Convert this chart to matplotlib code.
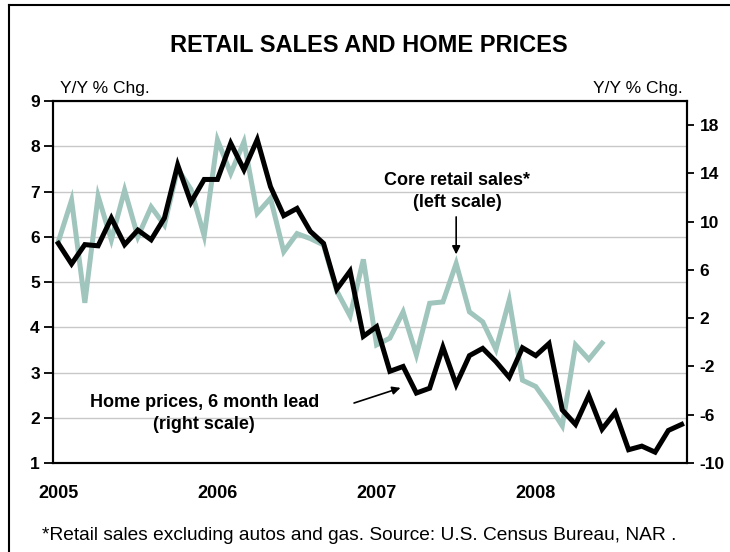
import matplotlib
matplotlib.use("Agg")
import matplotlib.pyplot as plt
from matplotlib.lines import Line2D

plt.rcParams['font.family'] = ['Liberation Sans', 'DejaVu Sans']
plt.rcParams['axes.unicode_minus'] = False

# monthly data, Jan 2005 onward
retail = [5.89, 6.81, 4.54, 6.90, 5.93, 7.03, 6.00, 6.66, 6.26, 7.50,
          7.05, 6.02, 8.14, 7.40, 8.10, 6.52, 6.85, 5.67, 6.07, 5.96,
          5.82, 4.80, 4.25, 5.50, 3.61, 3.76, 4.34, 3.39, 4.53, 4.56,
          5.41, 4.34, 4.12, 3.51, 4.60, 2.83, 2.69, 2.28, 1.82, 3.61,
          3.29, 3.65]
home = [8.2, 6.5, 8.1, 8.0, 10.3, 8.1, 9.3, 8.5, 10.3, 14.7,
        11.6, 13.5, 13.5, 16.5, 14.3, 16.8, 12.9, 10.5, 11.1, 9.2,
        8.2, 4.4, 5.9, 0.5, 1.3, -2.4, -2.0, -4.2, -3.8, -0.4,
        -3.5, -1.1, -0.5, -1.6, -2.9, -0.45, -1.1, -0.1, -5.6, -6.8,
        -4.4, -7.2, -5.8, -8.9, -8.6, -9.1, -7.3, -6.8]
years = ["2005", "2006", "2007", "2008"]
left_ticks = [1, 2, 3, 4, 5, 6, 7, 8, 9]
right_ticks = [-10, -6, -2, 2, 6, 10, 14, 18]

fig = plt.figure(figsize=(7.3, 5.52), dpi=100)
ax = fig.add_axes([0.0726, 0.1612, 0.8684, 0.6558])
ax2 = ax.twinx()

ax.plot(range(len(retail)), retail, color="#9fc5bc", lw=3.6, solid_joinstyle="miter", zorder=2)
ax2.plot(range(len(home)), home, color="black", lw=3.6, solid_joinstyle="miter", zorder=3)

ax.set_xlim(-0.4, 47.4)
ax.set_ylim(1, 9)
ax2.set_ylim(-10, 20)
ax.set_yticks(left_ticks)
ax2.set_yticks(right_ticks)
ax.set_xticks([0, 12, 24, 36])
ax.set_xticklabels(years)

for a in (ax, ax2):
    for s in a.spines.values():
        s.set_linewidth(1.5)
ax.grid(axis="y", color="#c8c8c8", lw=1)
ax.set_axisbelow(True)

ax.tick_params(axis="y", length=6.5, width=1.3, pad=3, labelsize=12.5)
ax2.tick_params(axis="y", length=5, width=1.3, pad=4, labelsize=12.5)
ax.tick_params(axis="x", length=0, pad=16, labelsize=13)
for t in ax.get_yticklabels() + ax2.get_yticklabels() + ax.get_xticklabels():
    t.set_fontweight("bold")

# titles and labels
fig.text(0.505, 0.918, "RETAIL SALES AND HOME PRICES", ha="center", va="center",
         fontsize=17, fontweight="bold")
fig.text(60 / 730, 1 - 88 / 552, "Y/Y % Chg.", ha="left", va="center", fontsize=12.5)
fig.text(683 / 730, 1 - 88 / 552, "Y/Y % Chg.", ha="right", va="center", fontsize=12.5)
fig.text(42 / 730, 1 - 535 / 552,
         "*Retail sales excluding autos and gas. Source: U.S. Census Bureau, NAR .",
         ha="left", va="center", fontsize=13.8)

# annotations
ax.annotate("", xy=(30, 5.55), xytext=(30, 6.5),
            arrowprops=dict(arrowstyle="-|>", color="black", lw=1.2, mutation_scale=12))
ax.text(30.1, 7.0, "Core retail sales*\n(left scale)", ha="center", va="center",
        fontsize=13, fontweight="bold", linespacing=1.35)
ax2.annotate("", xy=(26.0, -3.7), xytext=(22.1, -5.1),
             arrowprops=dict(arrowstyle="-|>", color="black", lw=1.2, mutation_scale=12))
ax2.text(11.0, -5.9, "Home prices, 6 month lead\n(right scale)", ha="center", va="center",
         fontsize=13, fontweight="bold", linespacing=1.35)

# outer frame
fig.add_artist(Line2D([9 / 730, 9 / 730], [0, 1 - 5 / 552], transform=fig.transFigure,
                      color="black", lw=1.5))
fig.add_artist(Line2D([9 / 730, 1], [1 - 5 / 552, 1 - 5 / 552], transform=fig.transFigure,
                      color="black", lw=1.5))

fig.savefig("out.png", dpi=100)
